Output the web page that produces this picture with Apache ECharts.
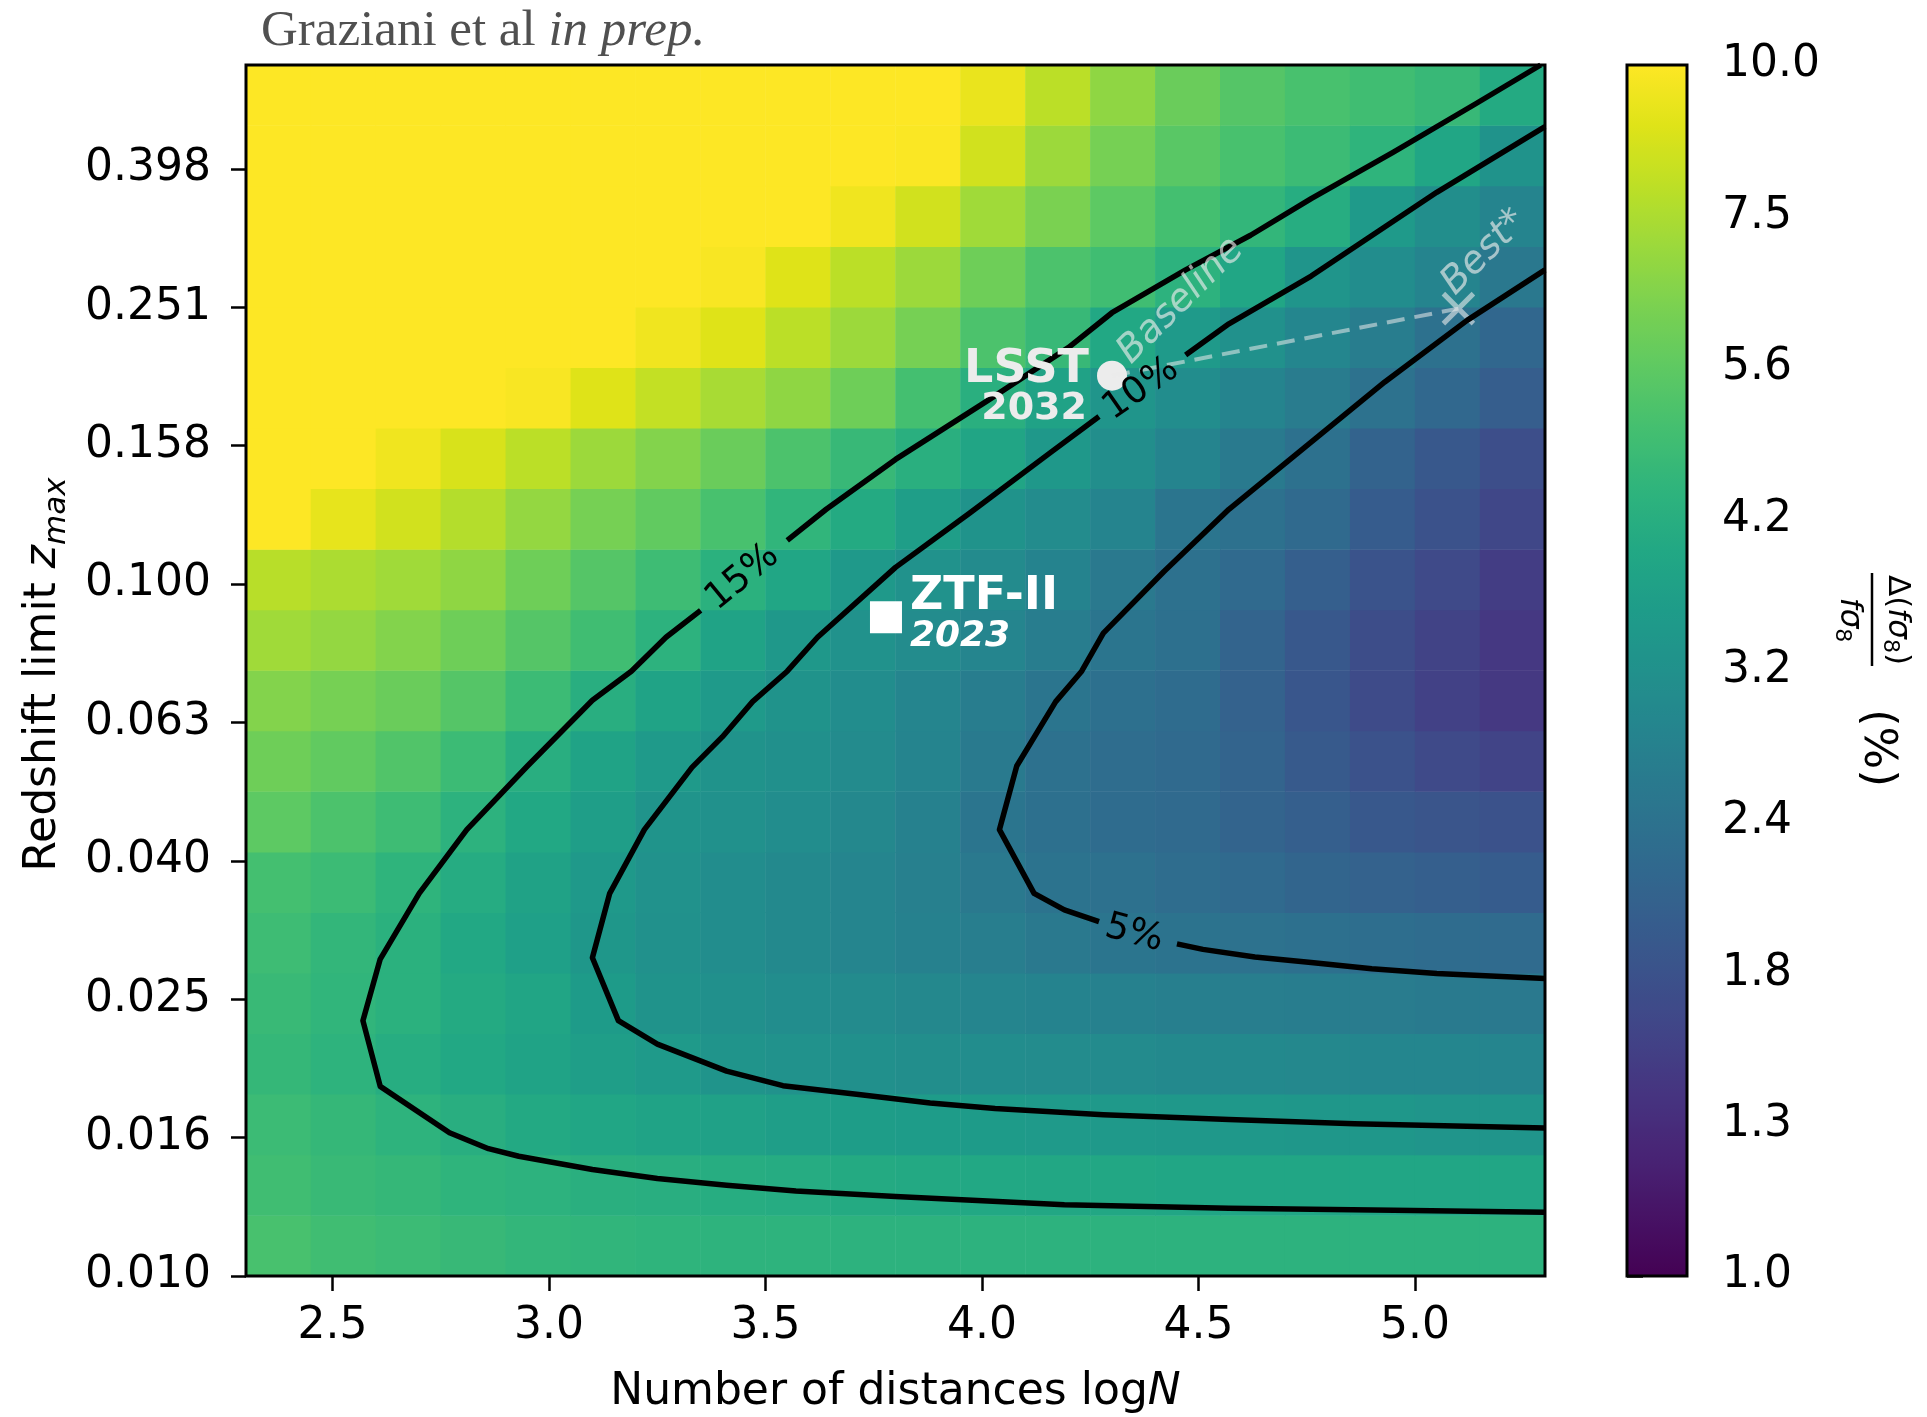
<!DOCTYPE html>
<html>
<head>
<meta charset="utf-8">
<title>fsigma8 forecast</title>
<script src="https://cdn.jsdelivr.net/npm/echarts@6.0.0/dist/echarts.min.js"></script>
<style>
  html, body { margin: 0; padding: 0; background: #fff; }
  #chart { width: 1927px; height: 1417px; }
</style>
</head>
<body>
<div id="chart"></div>
<script>
// cell centres of the map: log10 N across, log10 z_max upward
const logNCenters = [2.375, 2.525, 2.675, 2.825, 2.975, 3.125, 3.275, 3.425, 3.575, 3.725,
                     3.875, 4.025, 4.175, 4.325, 4.475, 4.625, 4.775, 4.925, 5.075, 5.225];
const logZCenters = [-1.956, -1.869, -1.781, -1.694, -1.606, -1.519, -1.431, -1.344, -1.256, -1.169,
                     -1.081, -0.994, -0.906, -0.819, -0.731, -0.644, -0.556, -0.469, -0.381, -0.294];

// Δ(fσ8)/fσ8 in %; first row is z_max = 0.01
const errGrid = [
  [5.1, 4.90, 4.79, 4.68, 4.57, 4.52, 4.47, 4.42, 4.42, 4.37, 4.37, 4.37, 4.37, 4.37, 4.37, 4.37, 4.37, 4.37, 4.37, 4.37],
  [4.90, 4.73, 4.62, 4.47, 4.37, 4.27, 4.22, 4.17, 4.12, 4.07, 4.03, 3.98, 3.94, 3.94, 3.89, 3.89, 3.89, 3.89, 3.89, 3.89],
  [4.79, 4.62, 4.42, 4.22, 4.03, 3.89, 3.80, 3.72, 3.63, 3.59, 3.55, 3.51, 3.47, 3.43, 3.39, 3.39, 3.35, 3.35, 3.31, 3.31],
  [4.62, 4.42, 4.17, 3.98, 3.80, 3.63, 3.47, 3.27, 3.20, 3.13, 3.09, 3.05, 3.02, 2.99, 2.95, 2.95, 2.92, 2.88, 2.88, 2.85],
  [4.73, 4.52, 4.32, 4.07, 3.85, 3.51, 3.24, 3.13, 3.05, 2.99, 2.92, 2.85, 2.79, 2.75, 2.69, 2.66, 2.63, 2.60, 2.57, 2.54],
  [4.84, 4.57, 4.32, 3.98, 3.67, 3.35, 3.16, 3.05, 2.95, 2.85, 2.75, 2.66, 2.54, 2.45, 2.40, 2.37, 2.32, 2.29, 2.24, 2.21],
  [5.0, 4.79, 4.47, 4.12, 3.76, 3.43, 3.20, 3.05, 2.95, 2.85, 2.72, 2.54, 2.40, 2.34, 2.26, 2.19, 2.11, 2.04, 2.00, 1.95],
  [5.6, 5.2, 4.84, 4.37, 3.98, 3.63, 3.27, 3.16, 3.05, 2.92, 2.75, 2.43, 2.32, 2.24, 2.19, 2.09, 2.00, 1.88, 1.82, 1.78],
  [6.0, 5.7, 5.3, 4.79, 4.22, 3.80, 3.47, 3.24, 3.13, 2.99, 2.82, 2.57, 2.34, 2.26, 2.19, 2.09, 1.91, 1.78, 1.66, 1.58],
  [6.5, 6.2, 5.9, 5.4, 4.79, 4.22, 3.80, 3.47, 3.24, 3.05, 2.85, 2.63, 2.43, 2.32, 2.24, 2.04, 1.84, 1.68, 1.55, 1.46],
  [7.2, 6.9, 6.5, 6.0, 5.4, 4.90, 4.37, 3.80, 3.39, 3.20, 3.02, 2.85, 2.63, 2.43, 2.32, 2.09, 1.88, 1.70, 1.57, 1.45],
  [7.8, 7.5, 7.2, 6.8, 6.0, 5.4, 4.84, 4.32, 3.89, 3.43, 3.20, 2.99, 2.79, 2.54, 2.34, 2.19, 2.00, 1.80, 1.66, 1.51],
  [10, 9.2, 8.5, 7.7, 6.9, 6.2, 5.7, 5.1, 4.52, 4.07, 3.63, 3.24, 3.02, 2.82, 2.45, 2.34, 2.19, 1.95, 1.78, 1.62],
  [10, 10, 9.5, 8.7, 7.9, 7.1, 6.5, 5.9, 5.2, 4.68, 4.27, 3.85, 3.39, 3.09, 2.82, 2.57, 2.34, 2.07, 1.88, 1.72],
  [10, 10, 10, 10, 9.8, 8.9, 8.1, 7.4, 6.8, 6.0, 5.0, 4.27, 3.76, 3.31, 3.05, 2.82, 2.60, 2.37, 2.16, 1.97],
  [10, 10, 10, 10, 10, 10, 9.5, 8.9, 7.9, 7.1, 6.2, 5.2, 4.68, 3.98, 3.47, 3.16, 2.88, 2.63, 2.34, 2.14],
  [10, 10, 10, 10, 10, 10, 10, 9.8, 8.9, 7.9, 7.1, 6.0, 5.2, 4.90, 4.37, 3.89, 3.31, 3.05, 2.82, 2.51],
  [10, 10, 10, 10, 10, 10, 10, 10, 10, 9.5, 8.5, 7.2, 6.3, 5.6, 5.0, 4.57, 4.17, 3.47, 3.09, 2.82],
  [10, 10, 10, 10, 10, 10, 10, 10, 10, 10, 9.9, 8.5, 7.1, 6.2, 5.5, 5.1, 4.79, 4.47, 3.89, 3.24],
  [10, 10, 10, 10, 10, 10, 10, 10, 10, 10, 10, 9.3, 7.9, 6.8, 5.9, 5.4, 5.1, 4.90, 4.68, 4.07]
];

// contour lines as [logN, log10 z_max]; each one is cut where its label sits
const contour15Low = [[5.30, -1.908], [4.95, -1.905], [4.57, -1.902], [4.19, -1.897], [3.80, -1.885],
  [3.57, -1.877], [3.41, -1.869], [3.25, -1.859], [3.10, -1.846], [2.93, -1.827], [2.86, -1.816],
  [2.77, -1.793], [2.61, -1.726], [2.57, -1.631], [2.61, -1.542], [2.70, -1.447], [2.81, -1.355],
  [2.95, -1.263], [3.10, -1.168], [3.19, -1.126], [3.27, -1.077], [3.35, -1.038]];
const contour15High = [[3.55, -0.937], [3.64, -0.892], [3.80, -0.820], [4.01, -0.736], [4.20, -0.658],
  [4.30, -0.608], [4.47, -0.546], [4.62, -0.496], [4.76, -0.443], [4.95, -0.376], [5.14, -0.306], [5.29, -0.25]];
const contour10Low = [[5.30, -1.786], [4.86, -1.780], [4.57, -1.774], [4.28, -1.767], [4.03, -1.758],
  [3.88, -1.750], [3.72, -1.738], [3.54, -1.725], [3.41, -1.704], [3.25, -1.665], [3.16, -1.631],
  [3.10, -1.540], [3.14, -1.447], [3.22, -1.355], [3.33, -1.265], [3.40, -1.221], [3.47, -1.170],
  [3.55, -1.126], [3.62, -1.077], [3.80, -0.976], [3.97, -0.898], [4.16, -0.809], [4.27, -0.758]];
const contour10High = [[4.47, -0.669], [4.57, -0.624], [4.76, -0.555], [5.05, -0.434], [5.30, -0.339]];
const contour5Low = [[5.30, -1.570], [5.05, -1.563], [4.90, -1.556], [4.76, -1.547], [4.63, -1.539],
  [4.51, -1.528], [4.45, -1.520]];
const contour5High = [[4.27, -1.488], [4.19, -1.471], [4.12, -1.447], [4.04, -1.355], [4.08, -1.263],
  [4.17, -1.170], [4.23, -1.126], [4.28, -1.071], [4.42, -0.982], [4.57, -0.892], [4.75, -0.800],
  [4.93, -0.708], [5.12, -0.619], [5.30, -0.546]];

const contourLabels = ['15%', '10%', '5%'];
const contourLabelAt = [[3.447, -0.986], [4.367, -0.714], [4.351, -1.501]];
const contourLabelAngle = [39.5, 35, -15];

// surveys
const surveyNames = ['LSST', 'ZTF-II', 'Best*'];
const surveyYears = ['2032', '2023', ''];
const surveyLogN = [4.3, 3.778, 5.1];
const surveyZmax = [0.2, 0.0895, 0.25];

// ticks
const xTickValues = [2.5, 3.0, 3.5, 4.0, 4.5, 5.0];
const yTickValues = [-2.0, -1.8, -1.6, -1.4, -1.2, -1.0, -0.8, -0.6, -0.4];
const yTickLabels = ['0.010', '0.016', '0.025', '0.040', '0.063', '0.100', '0.158', '0.251', '0.398'];
const cbarTickValues = [1.0, 1.334, 1.778, 2.371, 3.162, 4.217, 5.623, 7.499, 10.0];
const cbarTickLabels = ['1.0', '1.3', '1.8', '2.4', '3.2', '4.2', '5.6', '7.5', '10.0'];

const VIRIDIS = ['#440154', '#471365', '#482475', '#463480', '#414487', '#3b528b', '#355f8d',
  '#2f6c8e', '#2a788e', '#25848e', '#21918c', '#1e9c89', '#22a884', '#2fb47c', '#44bf70',
  '#5ec962', '#7ad151', '#9bd93c', '#bddf26', '#dfe318', '#fde725'];

const FONT = 'DejaVu Sans';
const PLOT = { left: 246, top: 65, width: 1299, height: 1211 };
const CBAR = { left: 1627, top: 65, width: 60, height: 1211 };

const chart = echarts.init(document.getElementById('chart'), null, { width: 1927, height: 1417 });

const heatData = [];
errGrid.forEach((row, yi) => row.forEach((v, xi) => heatData.push([xi, yi, v, Math.log10(v)])));

const cbarLogTicks = cbarTickValues.map(v => Math.log10(v));

function contourSeries(data) {
  return {
    type: 'line', xAxisIndex: 1, yAxisIndex: 1, data: data,
    showSymbol: false, symbol: 'none', silent: true, clip: true,
    lineStyle: { color: '#000', width: 5.5, join: 'round' }
  };
}

const surveyPoints = [
  { value: [surveyLogN[0], Math.log10(surveyZmax[0])], symbol: 'circle', symbolSize: 30,
    itemStyle: { color: '#ececec', opacity: 1 } },
  { value: [surveyLogN[1], Math.log10(surveyZmax[1])], symbol: 'rect', symbolSize: 32,
    itemStyle: { color: '#ffffff', opacity: 1 } },
  { value: [surveyLogN[2], Math.log10(surveyZmax[2])], symbol: 'path://M0,0L10,10M10,0L0,10', symbolSize: 30,
    itemStyle: { color: 'transparent', borderColor: 'rgba(235,235,235,0.6)', borderWidth: 5, opacity: 1 } }
];

const tickLine = { show: true, length: 15, lineStyle: { color: '#000', width: 2.5 } };

chart.setOption({
  animation: false,
  backgroundColor: '#ffffff',
  textStyle: { fontFamily: FONT },
  grid: [
    { left: PLOT.left, top: PLOT.top, width: PLOT.width, height: PLOT.height, containLabel: false, outerBoundsMode: 'none' },
    { left: PLOT.left, top: PLOT.top, width: PLOT.width, height: PLOT.height, containLabel: false, outerBoundsMode: 'none' },
    { left: CBAR.left, top: CBAR.top, width: CBAR.width, height: CBAR.height, containLabel: false, outerBoundsMode: 'none' }
  ],
  xAxis: [
    { gridIndex: 0, type: 'category', data: logNCenters.map(String), show: false },
    { gridIndex: 1, type: 'value', min: 2.3, max: 5.3,
      axisLine: { show: false }, splitLine: { show: false },
      axisTick: Object.assign({ customValues: xTickValues }, tickLine),
      axisLabel: { customValues: xTickValues, formatter: v => v.toFixed(1),
        fontSize: 44, color: '#000', fontFamily: FONT, margin: 29 } },
    { gridIndex: 2, type: 'value', min: 0, max: 1, show: false }
  ],
  yAxis: [
    { gridIndex: 0, type: 'category', data: logZCenters.map(String), show: false },
    { gridIndex: 1, type: 'value', min: -2, max: -0.25,
      axisLine: { show: false }, splitLine: { show: false },
      axisTick: Object.assign({ customValues: yTickValues }, tickLine),
      axisLabel: { customValues: yTickValues,
        formatter: v => yTickLabels[Math.round((v + 2) / 0.2)],
        fontSize: 44, color: '#000', fontFamily: FONT, margin: 35, padding: [10, 0, 0, 0] } },
    { gridIndex: 2, type: 'value', min: 0, max: 1, position: 'right',
      axisLine: { show: false }, splitLine: { show: false },
      axisTick: Object.assign({ customValues: cbarLogTicks }, tickLine, { length: 16 }),
      axisLabel: { customValues: cbarLogTicks,
        formatter: v => cbarTickLabels[Math.round(v * 8)],
        fontSize: 44, color: '#000', fontFamily: FONT, margin: 35, padding: [10, 0, 0, 0] } }
  ],
  visualMap: {
    type: 'continuous', seriesIndex: 0, dimension: 3, min: 0, max: 1,
    inRange: { color: VIRIDIS },
    calculable: false, hoverLink: false, realtime: false,
    orient: 'vertical', left: CBAR.left, top: CBAR.top,
    itemWidth: CBAR.width, itemHeight: CBAR.height, padding: 0, text: null
  },
  series: [
    { type: 'heatmap', xAxisIndex: 0, yAxisIndex: 0, data: heatData, silent: true,
      emphasis: { disabled: true }, progressive: 0 },
    contourSeries(contour15Low), contourSeries(contour15High),
    contourSeries(contour10Low), contourSeries(contour10High),
    contourSeries(contour5Low), contourSeries(contour5High),
    { type: 'line', xAxisIndex: 1, yAxisIndex: 1, silent: true, showSymbol: false, symbol: 'none',
      data: [[surveyLogN[0], Math.log10(surveyZmax[0])], [surveyLogN[2], Math.log10(surveyZmax[2])]],
      lineStyle: { color: 'rgba(235,235,235,0.55)', width: 4, type: [18, 10] } },
    { type: 'scatter', xAxisIndex: 1, yAxisIndex: 1, silent: true, data: surveyPoints }
  ]
});

// annotations placed from data coordinates
const toPx = (x, y) => chart.convertToPixel({ xAxisIndex: 1, yAxisIndex: 1 }, [x, y]);
const lsst = toPx(surveyLogN[0], Math.log10(surveyZmax[0]));
const ztf = toPx(surveyLogN[1], Math.log10(surveyZmax[1]));
const best = toPx(surveyLogN[2], Math.log10(surveyZmax[2]));
const deg = a => a * Math.PI / 180;

function txt(x, y, text, style, rotation) {
  return { type: 'text', x: x, y: y, rotation: rotation || 0, z: 100, silent: true,
    style: Object.assign({ text: text, fontFamily: FONT, fill: '#000' }, style) };
}

const graphics = [
  { type: 'rect', z: 100, silent: true,
    shape: { x: PLOT.left, y: PLOT.top, width: PLOT.width, height: PLOT.height },
    style: { fill: null, stroke: '#000', lineWidth: 3 } },
  { type: 'rect', z: 100, silent: true,
    shape: { x: CBAR.left, y: CBAR.top, width: CBAR.width, height: CBAR.height },
    style: { fill: null, stroke: '#000', lineWidth: 3 } },
  // title
  txt(261, 32, '{a|Graziani et al }{b|in prep.}', {
    align: 'left', verticalAlign: 'middle',
    rich: {
      a: { fontFamily: 'Liberation Serif', fontSize: 51, fill: '#505050' },
      b: { fontFamily: 'Liberation Serif', fontSize: 51, fontStyle: 'italic', fill: '#505050' }
    }
  }),
  // axis titles
  txt(PLOT.left + PLOT.width / 2, 1393, '{a|Number of distances log}{b|N}', {
    align: 'center', verticalAlign: 'middle',
    rich: {
      a: { fontFamily: FONT, fontSize: 44, fill: '#000' },
      b: { fontFamily: FONT, fontSize: 44, fontStyle: 'italic', fill: '#000' }
    }
  }),
  txt(44, PLOT.top + PLOT.height / 2 + 4, '{a|Redshift limit }{z|z}{s|max}', {
    align: 'center', verticalAlign: 'middle',
    rich: {
      a: { fontFamily: FONT, fontSize: 44, fill: '#000', lineHeight: 56 },
      z: { fontFamily: FONT, fontSize: 44, fontStyle: 'italic', fill: '#000', lineHeight: 56 },
      s: { fontFamily: FONT, fontSize: 31, fontStyle: 'italic', fill: '#000', lineHeight: 30, verticalAlign: 'bottom' }
    }
  }, Math.PI / 2),
  // colour bar title, rotated clockwise
  { type: 'group', x: 1877, y: 668, rotation: -Math.PI / 2, z: 100, silent: true, children: [
    { type: 'text', x: -48, y: -20, z: 100, style: { text: '{a|Δ(}{i|fσ}{s|8}{a|)}', align: 'center', verticalAlign: 'middle',
      rich: {
        a: { fontFamily: FONT, fontSize: 31, fill: '#000', lineHeight: 36 },
        i: { fontFamily: FONT, fontSize: 31, fontStyle: 'italic', fill: '#000', lineHeight: 36 },
        s: { fontFamily: FONT, fontSize: 22, fill: '#000', lineHeight: 20, verticalAlign: 'bottom' }
      } } },
    { type: 'line', z: 100, shape: { x1: -95, y1: 5, x2: -2, y2: 5 }, style: { stroke: '#000', lineWidth: 2.5 } },
    { type: 'text', x: -48, y: 28, z: 100, style: { text: '{i|fσ}{s|8}', align: 'center', verticalAlign: 'middle',
      rich: {
        i: { fontFamily: FONT, fontSize: 31, fontStyle: 'italic', fill: '#000', lineHeight: 36 },
        s: { fontFamily: FONT, fontSize: 22, fill: '#000', lineHeight: 20, verticalAlign: 'bottom' }
      } } },
    { type: 'text', x: 80, y: 0, z: 100, style: { text: '(%)', fontFamily: FONT, fontSize: 45, fill: '#000',
      align: 'center', verticalAlign: 'middle' } }
  ] },
  // survey annotations
  txt(lsst[0] - 23, lsst[1] - 6, surveyNames[0], { fontSize: 46, fontWeight: 'bold', fill: '#ececec', align: 'right', verticalAlign: 'middle' }),
  txt(lsst[0] - 25, lsst[1] + 33, surveyYears[0], { fontSize: 38, fontWeight: 'bold', fill: '#ececec', align: 'right', verticalAlign: 'middle' }),
  txt(lsst[0] + 69, lsst[1] - 75, 'Baseline', { fontSize: 38, fontStyle: 'italic', fill: 'rgba(235,235,235,0.65)', align: 'center', verticalAlign: 'middle' }, deg(45)),
  txt(ztf[0] + 24, ztf[1] - 20, surveyNames[1], { fontSize: 46, fontWeight: 'bold', fill: '#ffffff', align: 'left', verticalAlign: 'middle' }),
  txt(ztf[0] + 24, ztf[1] + 19, surveyYears[1], { fontSize: 36, fontWeight: 'bold', fontStyle: 'italic', fill: '#ffffff', align: 'left', verticalAlign: 'middle' }),
  txt(best[0] + 26, best[1] - 56, surveyNames[2], { fontSize: 38, fontStyle: 'italic', fill: 'rgba(235,235,235,0.65)', align: 'center', verticalAlign: 'middle' }, deg(45))
];

contourLabels.forEach((label, i) => {
  const p = toPx(contourLabelAt[i][0], contourLabelAt[i][1]);
  graphics.push(txt(p[0], p[1] + 3, label, { fontSize: 37, align: 'center', verticalAlign: 'middle' }, deg(contourLabelAngle[i])));
});

chart.setOption({ graphic: graphics });
</script>
</body>
</html>
